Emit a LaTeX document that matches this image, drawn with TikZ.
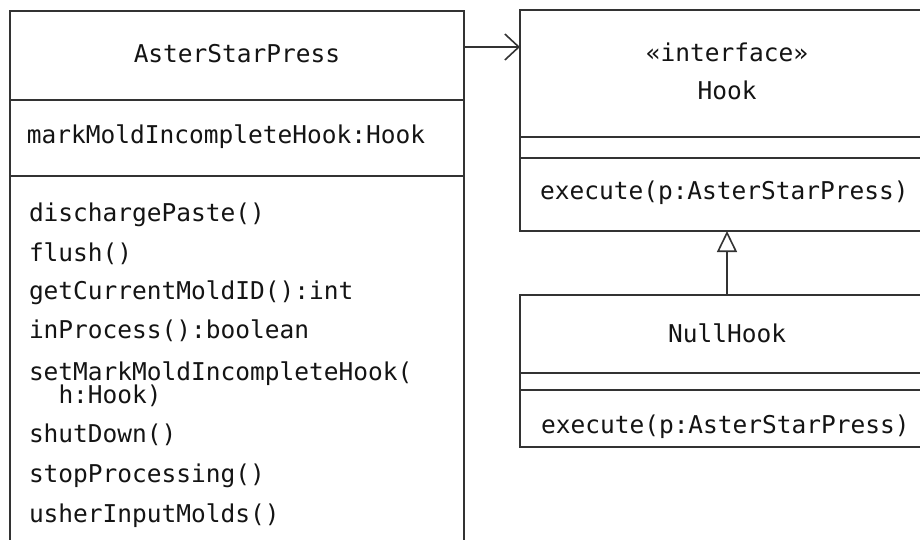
\documentclass[tikz,border=0pt]{standalone}
\usepackage{fontspec}
\setmonofont{DejaVu Sans Mono}
\usetikzlibrary{arrows.meta}
\begin{document}
\begin{tikzpicture}[x=1pt,y=-1pt,
  ln/.style={draw=black!80, line width=1.8pt},
  umlbox/.style={ln, rectangle, inner sep=0pt, outer sep=0pt, anchor=north west},
  txt/.style={inner sep=0pt, outer sep=0pt, font=\ttfamily\fontsize{24.5}{28}\selectfont, text=black!92},
  lt/.style={txt, anchor=base west},
  ct/.style={txt, anchor=base}
]
\useasboundingbox (0,0) rectangle (920,540);
\clip (0,0) rectangle (920,540);
\fill[white] (0,0) rectangle (920,540);

% AsterStarPress class
\node[umlbox, minimum width=454pt, minimum height=560pt] (asp) at (10,11) {};
\coordinate (d1) at (0,100);
\coordinate (d2) at (0,176);
\draw[ln] (asp.west |- d1) -- (asp.east |- d1);
\draw[ln] (asp.west |- d2) -- (asp.east |- d2);
\node[ct] (aspname) at (237,63) {AsterStarPress};
\node[lt] (attr) at (27,144) {markMoldIncompleteHook:Hook};
\node[lt] (m1) at (29,221) {dischargePaste()};
\node[lt] (m2) at (29,261) {flush()};
\node[lt] (m3) at (29,299) {getCurrentMoldID():int};
\node[lt] (m4) at (29,338) {inProcess():boolean};
\node[lt] (m5) at (29,380) {setMarkMoldIncompleteHook(};
\node[lt] (m5b) at (29,403) {\ \ h:Hook)};
\node[lt] (m6) at (29,442) {shutDown()};
\node[lt] (m7) at (29,482) {stopProcessing()};
\node[lt] (m8) at (29,522) {usherInputMolds()};

% Hook interface
\node[umlbox, minimum width=414pt, minimum height=221pt] (hook) at (520,10) {};
\coordinate (h1) at (0,137);
\coordinate (h2) at (0,158);
\draw[ln] (hook.west |- h1) -- (hook.east |- h1);
\draw[ln] (hook.west |- h2) -- (hook.east |- h2);
\node[ct] (stereo) at (727,62) {«interface»};
\node[ct] (hookname) at (727,100) {Hook};
\node[lt] (hookop) at (540,200) {execute(p:AsterStarPress)};

% NullHook class
\node[umlbox, minimum width=414pt, minimum height=152pt] (null) at (520,295) {};
\coordinate (n1) at (0,373);
\coordinate (n2) at (0,390);
\draw[ln] (null.west |- n1) -- (null.east |- n1);
\draw[ln] (null.west |- n2) -- (null.east |- n2);
\node[ct] (nullname) at (727,342) {NullHook};
\node[lt] (nullop) at (541,433) {execute(p:AsterStarPress)};

% connectors
\coordinate (ay) at (0,47);
\draw[ln, -{Straight Barb[length=14pt,width=26pt,line width=1.6pt]}] (asp.east |- ay) -- (hook.west |- ay);
\draw[ln, -{Triangle[open,length=21pt,width=20pt,line width=1.6pt,fill=white]}] (null.north) -- (hook.south);
\end{tikzpicture}
\end{document}
